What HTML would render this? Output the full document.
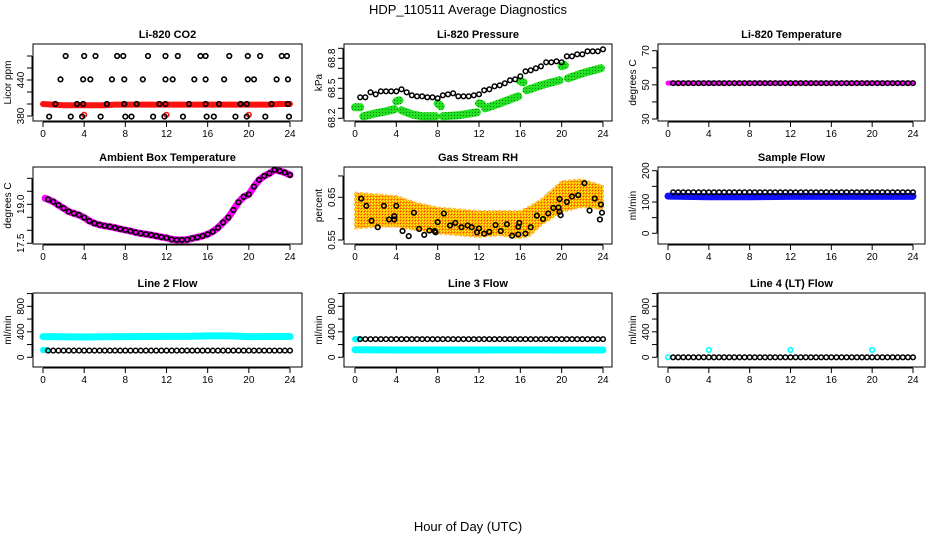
<!DOCTYPE html>
<html><head><meta charset="utf-8">
<style>
html,body{margin:0;padding:0;background:#fff;}
svg{display:block;font-family:"Liberation Sans",sans-serif;}
</style></head>
<body>
<svg id="chart" width="936" height="540" viewBox="0 0 936 540">
<defs>
<pattern id="orangeDots" width="3" height="3" patternUnits="userSpaceOnUse">
<rect width="3" height="3" fill="#ffa500"/><rect x="0" y="0" width="1" height="1" fill="#ffff00"/><rect x="1" y="1" width="1" height="1" fill="#ff4500"/><rect x="2" y="2" width="1" height="1" fill="#ffff00"/>
</pattern>
<pattern id="greenDots" width="3" height="3" patternUnits="userSpaceOnUse">
<rect width="3" height="3" fill="#22e022"/><rect x="1" y="1" width="1" height="1" fill="#0a7a0a"/>
</pattern>
</defs>
<text x="468" y="14" text-anchor="middle" font-size="13">HDP_110511  Average Diagnostics</text>
<text x="468" y="531" text-anchor="middle" font-size="13">Hour of Day (UTC)</text>
</svg>
<script>
// ---------- data ----------
var xTicks = [0,4,8,12,16,20,24];
// CO2
var co2TopT = [2.2,4.0,5.1,7.2,7.8,10.2,11.9,13.1,15.3,15.8,18.1,19.9,21.1,23.2,23.7];
var co2TopV = [480,480,480,480,480,480,480,480,480,480,480,480,480,480,480];
var co2MidT = [1.7,3.9,4.6,6.7,7.9,9.7,11.9,12.6,14.7,15.8,17.6,19.9,20.5,22.7,23.8];
var co2MidV = [441,441,441,441,441,441,441,441,441,441,441,441,441,441,441];
var co2LowT = [1.2,3.3,3.9,6.2,7.9,9.1,11.3,11.9,14.2,15.8,17.1,19.2,19.8,22.2,23.8];
var co2LowV = [400,400,400,400,400,400,400,400,400,400,400,400,400,400,400];
var co2BotT = [0.6,2.7,3.8,5.6,8.0,8.6,10.7,11.8,13.6,15.9,16.6,18.7,19.8,21.6,23.9];
var co2BotV = [379,379,379,379,379,379,379,379,379,379,379,379,379,379,379];
var co2RedT = [0,1,2,3,4,5,6,7,8,9,10,11,12,13,14,15,16,17,18,19,20,21,22,23,24];
var co2RedV = [400,399,398,398,398,398,398,399,399,399,399,399,399,399,399,399,399,399,399,399,399,399,399,400,400];
var co2RedCircT = [4,12,20];
var co2RedCircV = [382,382,382];
var co2Ticks = [380,400,420,440,460,480];
var co2Labels = ["380","","","440","",""];
// Pressure
var presT = [0.5,1,1.5,2,2.5,3,3.5,4,4.5,5,5.5,6,6.5,7,7.5,8,8.5,9,9.5,10,10.5,11,11.5,12,12.5,13,13.5,14,14.5,15,15.5,16,16.5,17,17.5,18,18.5,19,19.5,20,20.5,21,21.5,22,22.5,23,23.5,24];
var presV = [68.41,68.41,68.46,68.44,68.47,68.47,68.47,68.47,68.49,68.46,68.43,68.42,68.42,68.41,68.41,68.40,68.43,68.44,68.45,68.42,68.42,68.42,68.43,68.44,68.48,68.49,68.52,68.53,68.55,68.58,68.59,68.62,68.67,68.68,68.70,68.72,68.76,68.76,68.77,68.76,68.82,68.82,68.84,68.84,68.87,68.87,68.87,68.89];
var greenT = [0,0.5,null,0.8,2,3,3.8,null,4,4.3,null,4.5,5.5,6.5,7.8,null,8,8.3,null,8.5,10,11.8,null,12,12.3,null,12.6,14,15.8,null,16,16.3,null,16.6,18,19.8,null,20,20.3,null,20.6,22,23.8];
var greenV = [68.31,68.31,null,68.22,68.25,68.27,68.29,null,68.37,68.38,null,68.28,68.24,68.22,68.22,null,68.35,68.32,null,68.22,68.23,68.26,null,68.35,68.34,null,68.30,68.35,68.42,null,68.57,68.56,null,68.48,68.53,68.58,null,68.72,68.73,null,68.60,68.65,68.70];
var presTicks = [68.2,68.3,68.4,68.5,68.6,68.7,68.8,68.9];
var presLabels = ["68.2","","","68.5","","","68.8",""];
// Li-820 temperature
var tempT = [0.5,1,1.5,2,2.5,3,3.5,4,4.5,5,5.5,6,6.5,7,7.5,8,8.5,9,9.5,10,10.5,11,11.5,12,12.5,13,13.5,14,14.5,15,15.5,16,16.5,17,17.5,18,18.5,19,19.5,20,20.5,21,21.5,22,22.5,23,23.5,24];
var tempV = [51,51,51,51,51,51,51,51,51,51,51,51,51,51,51,51,51,51,51,51,51,51,51,51,51,51,51,51,51,51,51,51,51,51,51,51,51,51,51,51,51,51,51,51,51,51,51,51];
var tempLineT = [0,24];
var tempLineV = [51,51];
var tempTicks = [30,40,50,60,70];
var tempLabels = ["30","","50","","70"];
// Ambient box temperature
var ambT = [0.2,0.5,1,1.5,2,2.5,3,3.5,4,4.5,5,5.5,6,6.5,7,7.5,8,8.5,9,9.5,10,10.5,11,11.5,12,12.5,13,13.5,14,14.5,15,15.5,16,16.5,17,17.5,18,18.5,19,19.5,20,20.5,21,21.5,22,22.5,23,23.5,24];
var ambV = [19.23,19.19,19.10,18.97,18.85,18.72,18.65,18.59,18.49,18.36,18.27,18.21,18.17,18.14,18.10,18.05,18.01,17.97,17.92,17.88,17.85,17.82,17.78,17.74,17.71,17.65,17.63,17.63,17.64,17.69,17.73,17.78,17.85,17.95,18.10,18.30,18.49,18.78,19.08,19.29,19.38,19.68,19.94,20.09,20.19,20.32,20.28,20.22,20.13];
var ambTicks = [17.5,18.0,18.5,19.0,19.5,20.0];
var ambLabels = ["17.5","","","19.0","",""];
// Gas stream RH
var rhT = [0.6,1.1,1.6,2.2,2.8,3.3,3.8,3.8,4.0,4.6,5.2,5.7,6.2,6.7,7.2,7.7,7.8,8.0,8.6,9.2,9.7,10.3,10.9,11.3,11.8,12.0,12.5,13.0,13.6,14.1,14.7,15.2,15.8,15.8,15.9,16.5,17.0,17.6,18.2,18.7,19.2,19.7,19.8,19.8,19.9,20.5,21.0,21.6,22.2,22.7,23.2,23.7,23.8,23.9];
var rhV = [0.647,0.630,0.595,0.580,0.630,0.598,0.606,0.598,0.630,0.571,0.559,0.614,0.576,0.562,0.572,0.571,0.568,0.592,0.612,0.584,0.590,0.580,0.584,0.580,0.568,0.577,0.565,0.569,0.585,0.571,0.587,0.560,0.563,0.581,0.590,0.565,0.580,0.607,0.599,0.612,0.625,0.626,0.646,0.616,0.608,0.639,0.652,0.655,0.683,0.619,0.647,0.598,0.633,0.614];
var rhBandT = [0,2,4,6,8,10,12,14,16,17,18,20,22,24];
var rhBandHi = [0.661,0.657,0.653,0.637,0.626,0.622,0.618,0.618,0.618,0.630,0.645,0.688,0.692,0.677];
var rhBandLo = [0.577,0.581,0.581,0.573,0.565,0.561,0.557,0.561,0.554,0.561,0.585,0.616,0.627,0.622];
var rhTicks = [0.55,0.60,0.65,0.70];
var rhLabels = ["0.55","","0.65",""];
// Sample flow
var sampT = [0.5,1,1.5,2,2.5,3,3.5,4,4.5,5,5.5,6,6.5,7,7.5,8,8.5,9,9.5,10,10.5,11,11.5,12,12.5,13,13.5,14,14.5,15,15.5,16,16.5,17,17.5,18,18.5,19,19.5,20,20.5,21,21.5,22,22.5,23,23.5,24];
var sampV = [131,131,131,131,131,131,131,131,131,131,131,131,131,131,131,131,131,131,131,131,131,131,131,131,131,131,131,131,131,131,131,131,131,131,131,131,131,131,131,131,131,131,131,131,131,131,131,131];
var blueT = [0,4,8,12,16,20,24];
var blueV = [119,117,117,118,118,118,118];
var sampTicks = [0,50,100,150,200];
var sampLabels = ["0","","100","","200"];
// Line flows
var flowTicks = [0,200,400,600,800,1000];
var flowLabels = ["0","","400","","800",""];
var line2BlackV = [105,105,105,105,105,105,105,105,105,105,105,105,105,105,105,105,105,105,105,105,105,105,105,105,105,105,105,105,105,105,105,105,105,105,105,105,105,105,105,105,105,105,105,105,105,105,105,105];
var line2CyanT = [0,2,4,6,8,10,12,14,16,18,20,22,24];
var line2CyanV = [325,322,318,322,325,326,328,328,335,336,324,326,326];
var line3BlackV = [285,285,285,285,285,285,285,285,285,285,285,285,285,285,285,285,285,285,285,285,285,285,285,285,285,285,285,285,285,285,285,285,285,285,285,285,285,285,285,285,285,285,285,285,285,285,285,285];
var line3CyanT = [0,4,8,12,16,20,24];
var line3CyanV = [118,115,114,115,116,115,115];
var line4BlackV = [0,0,0,0,0,0,0,0,0,0,0,0,0,0,0,0,0,0,0,0,0,0,0,0,0,0,0,0,0,0,0,0,0,0,0,0,0,0,0,0,0,0,0,0,0,0,0,0];
var line4CyanCircT = [0,4,12,20];
var line4CyanCircV = [0,115,115,115];

// ---------- drawing ----------
var svg = document.getElementById('chart');
var NS = 'http://www.w3.org/2000/svg';
function mk(tag, attrs, parent){
  var e = document.createElementNS(NS, tag);
  for (var k in attrs) e.setAttribute(k, attrs[k]);
  (parent || svg).appendChild(e);
  return e;
}
function panel(cfg){
  var g = mk('g', {});
  
  
  cfg.sx = function(t){ return cfg.x0 + (cfg.x1 - cfg.x0) * t / 24; };
  cfg.sy = function(v){ return cfg.py0 + (cfg.py1 - cfg.py0) * (v - cfg.v0) / (cfg.v1 - cfg.v0); };
  cfg.g = g;
  var plot = mk('g', {}, g);
  
  
  cfg.plot = plot;
  return cfg;
}
function frame(cfg){
  var g = cfg.g;
  var box = mk('rect', {x:cfg.L, y:cfg.T, width:cfg.R-cfg.L, height:cfg.B-cfg.T, fill:'none', stroke:'#000', 'stroke-width':1}, g);
  
  
  var t = mk('text', {x:(cfg.L+cfg.R)/2, y:cfg.T-6, 'text-anchor':'middle', 'font-size':11, 'font-weight':'bold'}, g);
  t.textContent = cfg.title;
  
  
  var xa = mk('g', {}, g);
  
  
  mk('line', {x1:cfg.sx(0), x2:cfg.sx(24), y1:cfg.B+1, y2:cfg.B+1, stroke:'#000'}, xa);
  xTicks.forEach(function(v){
    var x = cfg.sx(v);
    mk('line', {x1:x, x2:x, y1:cfg.B+1, y2:cfg.B+6, stroke:'#000'}, xa);
    var lt = mk('text', {x:x, y:cfg.B+16, 'text-anchor':'middle', 'font-size':10}, xa);
    lt.textContent = v;
    
    
  });
  var ya = mk('g', {}, g);
  
  
  var yt = cfg.ticks;
  mk('line', {x1:cfg.L-1, x2:cfg.L-1, y1:cfg.sy(yt[0]), y2:cfg.sy(yt[yt.length-1]), stroke:'#000'}, ya);
  yt.forEach(function(v, i){
    var y = cfg.sy(v);
    mk('line', {x1:cfg.L-6, x2:cfg.L-1, y1:y, y2:y, stroke:'#000'}, ya);
    if (cfg.labels[i]) {
      var lt = mk('text', {x:0, y:0, 'text-anchor':'middle', 'font-size':10, transform:'translate('+(cfg.L-9)+','+y+') rotate(-90)'}, ya);
      lt.textContent = cfg.labels[i];
      
      
    }
  });
  var yl = mk('text', {x:0, y:0, 'text-anchor':'middle', 'font-size':10, transform:'translate('+(cfg.L-22)+','+((cfg.T+cfg.B)/2)+') rotate(-90)'}, g);
  yl.textContent = cfg.ylab;
  
  
}
function circles(cfg, T, V, color, r, sw, name){
  var g = mk('g', {}, cfg.plot);
  
  
  for (var i = 0; i < T.length; i++){
    var c = mk('circle', {cx:cfg.sx(T[i]), cy:cfg.sy(V[i]), r:r, fill:'none', stroke:color, 'stroke-width':sw}, g);
    
    
  }
}
function band(cfg, T, V, color, w, name){
  var d = '', pen = false;
  for (var i = 0; i < T.length; i++){
    if (T[i] === null) { pen = false; continue; }
    d += (pen ? 'L' : 'M') + cfg.sx(T[i]).toFixed(1) + ',' + cfg.sy(V[i]).toFixed(1);
    pen = true;
  }
  var p = mk('path', {d:d, fill:'none', stroke:color, 'stroke-width':w, 'stroke-linecap':'round', 'stroke-linejoin':'round'}, cfg.plot);
  
  
}
var col = [{x0:43,x1:290,L:33,R:302},{x0:355,x1:603,L:344,R:612},{x0:668,x1:913,L:658,R:925}];
var row = [{T:44,B:121},{T:167,B:244},{T:293,B:367}];
function cfgOf(c, r, extra){
  var o = {x0:col[c].x0, x1:col[c].x1, L:col[c].L, R:col[c].R, T:row[r].T, B:row[r].B};
  for (var k in extra) o[k] = extra[k];
  return panel(o);
}

var p = cfgOf(0,0,{name:'co2-panel', title:'Li-820 CO2', ylab:'Licor ppm', v0:380, py0:116, v1:440, py1:80, ticks:co2Ticks, labels:co2Labels});
band(p, co2RedT, co2RedV, '#ff1010', 6, 'co2-red-series');
circles(p, co2RedCircT, co2RedCircV, '#ff1010', 2.3, 1.6, 'co2-red-outliers');
circles(p, co2TopT, co2TopV, '#000', 2.3, 1.6, 'co2-black-480');
circles(p, co2MidT, co2MidV, '#000', 2.3, 1.6, 'co2-black-440');
circles(p, co2LowT, co2LowV, '#000', 2.3, 1.6, 'co2-black-400');
circles(p, co2BotT, co2BotV, '#000', 2.3, 1.6, 'co2-black-380');
frame(p);

p = cfgOf(1,0,{name:'pressure-panel', title:'Li-820 Pressure', ylab:'kPa', v0:68.2, py0:118.3, v1:68.5, py1:88.3, ticks:presTicks, labels:presLabels});
band(p, greenT, greenV, 'url(#greenDots)', 8, 'pressure-green-series');
circles(p, presT, presV, '#000', 2.3, 1.5, 'pressure-black-series');
frame(p);

p = cfgOf(2,0,{name:'temperature-panel', title:'Li-820 Temperature', ylab:'degrees C', v0:30, py0:119, v1:70, py1:50.7, ticks:tempTicks, labels:tempLabels});
band(p, tempLineT, tempLineV, '#ff00ff', 5, 'temperature-magenta-series');
circles(p, tempT, tempV, '#000', 2.3, 1.5, 'temperature-black-series');
frame(p);

p = cfgOf(0,1,{name:'ambient-panel', title:'Ambient Box Temperature', ylab:'degrees C', v0:17.5, py0:243.3, v1:19.0, py1:204.3, ticks:ambTicks, labels:ambLabels});
band(p, ambT, ambV, '#ff00ff', 7, 'ambient-magenta-series');
circles(p, ambT.slice(1), ambV.slice(1), '#000', 2.3, 1.6, 'ambient-black-series');
frame(p);

p = cfgOf(1,1,{name:'rh-panel', title:'Gas Stream RH', ylab:'percent', v0:0.55, py0:240, v1:0.65, py1:197.3, ticks:rhTicks, labels:rhLabels});
(function(){
  var d = '';
  for (var i = 0; i < rhBandT.length; i++) d += (i ? 'L' : 'M') + p.sx(rhBandT[i]).toFixed(1) + ',' + p.sy(rhBandHi[i]).toFixed(1);
  for (var j = rhBandT.length - 1; j >= 0; j--) d += 'L' + p.sx(rhBandT[j]).toFixed(1) + ',' + p.sy(rhBandLo[j]).toFixed(1);
  var b = mk('path', {d:d + 'Z', fill:'url(#orangeDots)', stroke:'#ffc040', 'stroke-width':2, 'stroke-dasharray':'3,2', 'stroke-linejoin':'round'}, p.plot);
  
  
})();
circles(p, rhT, rhV, '#000', 2.3, 1.6, 'rh-black-series');
frame(p);

p = cfgOf(2,1,{name:'sample-flow-panel', title:'Sample Flow', ylab:'ml/min', v0:0, py0:233.3, v1:200, py1:170.7, ticks:sampTicks, labels:sampLabels});
band(p, blueT, blueV, '#1010ff', 7, 'sample-flow-blue-series');
circles(p, sampT, sampV, '#000', 2.3, 1.5, 'sample-flow-black-series');
frame(p);

p = cfgOf(0,2,{name:'line2-panel', title:'Line 2 Flow', ylab:'ml/min', v0:0, py0:357.3, v1:800, py1:306.3, ticks:flowTicks, labels:flowLabels});
band(p, line2CyanT, line2CyanV, '#00ffff', 7, 'line2-cyan-series');
band(p, [0,0.4], [115,115], '#00ffff', 6, 'line2-cyan-start');
circles(p, sampT, line2BlackV, '#000', 2.3, 1.5, 'line2-black-series');
frame(p);

p = cfgOf(1,2,{name:'line3-panel', title:'Line 3 Flow', ylab:'ml/min', v0:0, py0:357.3, v1:800, py1:306.3, ticks:flowTicks, labels:flowLabels});
band(p, line3CyanT, line3CyanV, '#00ffff', 7, 'line3-cyan-series');
band(p, [0,0.4], [285,285], '#00ffff', 6, 'line3-cyan-start');
circles(p, sampT, line3BlackV, '#000', 2.3, 1.5, 'line3-black-series');
frame(p);

p = cfgOf(2,2,{name:'line4-panel', title:'Line 4 (LT) Flow', ylab:'ml/min', v0:0, py0:357.3, v1:800, py1:306.3, ticks:flowTicks, labels:flowLabels});
circles(p, line4CyanCircT, line4CyanCircV, '#00ffff', 2.3, 1.6, 'line4-cyan-series');
circles(p, sampT, line4BlackV, '#000', 2.3, 1.5, 'line4-black-series');
frame(p);
</script>
</body></html>
